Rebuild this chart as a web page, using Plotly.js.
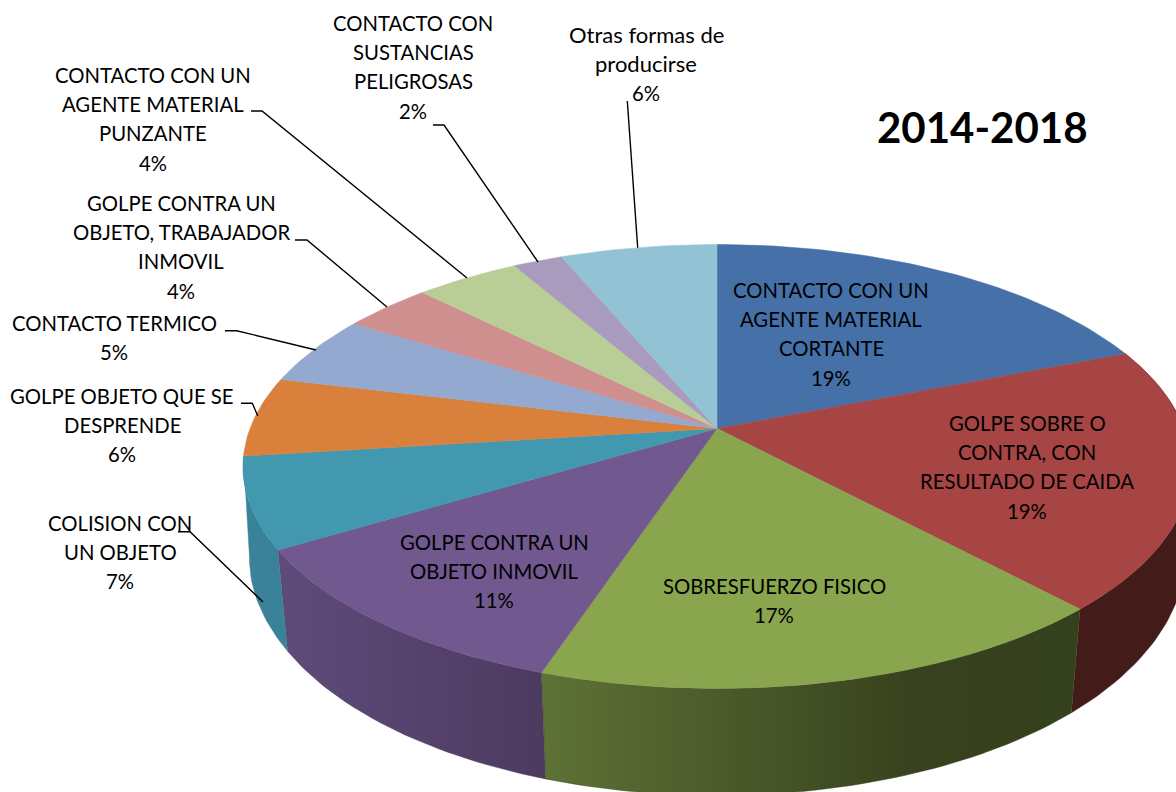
<!DOCTYPE html>
<html><head><meta charset="utf-8">
<script src="https://cdn.plot.ly/plotly-3.0.1.min.js"></script>
<style>html,body{margin:0;padding:0;background:#fff}#c{width:1176px;height:792px}</style>
</head><body><div id="c"></div>
<script>
const categories = ["CONTACTO CON UN AGENTE MATERIAL CORTANTE","GOLPE SOBRE O CONTRA, CON RESULTADO DE CAIDA","SOBRESFUERZO FISICO","GOLPE CONTRA UN OBJETO INMOVIL","COLISION CON UN OBJETO","GOLPE OBJETO QUE SE DESPRENDE","CONTACTO TERMICO","GOLPE CONTRA UN OBJETO, TRABAJADOR INMOVIL","CONTACTO CON UN AGENTE MATERIAL PUNZANTE","CONTACTO CON SUSTANCIAS PELIGROSAS","Otras formas de producirse"];
const values = [19.0,19.1,17.0,11.3,6.6,5.8,5.1,3.6,4.2,2.0,6.3];
const labelLines = [["CONTACTO CON UN","AGENTE MATERIAL","CORTANTE"],["GOLPE SOBRE O","CONTRA, CON","RESULTADO DE CAIDA"],["SOBRESFUERZO FISICO"],["GOLPE CONTRA UN","OBJETO INMOVIL"],["COLISION CON","UN OBJETO"],["GOLPE OBJETO QUE SE","DESPRENDE"],["CONTACTO TERMICO"],["GOLPE CONTRA UN","OBJETO, TRABAJADOR","INMOVIL"],["CONTACTO CON UN","AGENTE MATERIAL","PUNZANTE"],["CONTACTO CON","SUSTANCIAS","PELIGROSAS"],["Otras formas de","producirse"]];
const titleText = "2014-2018";
const colors = ["#4570A8","#A64543","#89A54E","#71588F","#4198AF","#D8803C","#93A9CF","#CF8F8E","#B9CD96","#A99BBD","#92C3D5"];
const wallColors = {1:[[0,"#431B19"],[1,"#431B19"]],2:[[0,"#5E7236"],[0.7,"#37411D"],[1,"#35401C"]],3:[[0,"#5F4B7A"],[1,"#4D3A5F"]],4:[[0,"#3A8298"],[1,"#3A8298"]]};
const labelX = [831,1027,774,494,120,122,114,181,153,413,646];
const labelY = [289.5,422.5,585.5,541.5,522.5,395.5,322.5,202.5,74.5,22.5,34.5];
const lineGap = 29.4;
const leaders = [null,null,null,null,
 [[178,531.7],[190,531.7],[263,602]],
 [[241,403.3],[252.3,403.3],[257.7,415.7]],
 [[225,330.7],[236.7,330.7],[316,350]],
 [[295,240],[307,240],[387,307]],
 [[251,111],[262,111],[467,278]],
 [[433,125],[444,125],[538,262]],
 [[627.3,101],[637.7,247.7]]];

// perspective projection of the pie disc
const CX=717,CY=428.5,A=467,B=215.5,K=0.171;
function rim(f){const t=2*Math.PI*f,x=Math.sin(t),y=-Math.cos(t),d=1-K*y;return [A*x/d,B*y/d];}
function px(p){return [CX+p[0],CY+p[1]];}
function low(p){const s=0.976+0.012*Math.exp(-Math.pow(p[1]/90,2));return [CX+s*p[0],CY+96+1.042*p[1]];}
function arc(a,b){const n=Math.max(6,Math.ceil((b-a)*300)),r=[];for(let i=0;i<=n;i++)r.push(rim(a+(b-a)*i/n));return r;}

const total=values.reduce((s,v)=>s+v,0);
const traces=[];
let c=0;const spans=values.map(v=>{const s=[c/total,(c+v)/total];c+=v;return s;});
spans.forEach((s,i)=>{
  if(!wallColors[i])return;
  const a=arc(s[0],s[1]);
  const pts=a.map(px).concat(a.slice().reverse().map(low));
  const scale=wallColors[i];
  traces.push({type:"scatter",mode:"lines",x:pts.map(p=>p[0]),y:pts.map(p=>p[1]),fill:"toself",
    line:{width:0.5,color:scale[scale.length-1][1]},
    fillgradient:{type:"horizontal",colorscale:scale},
    hoverinfo:"skip",showlegend:false});
});
spans.forEach((s,i)=>{
  const pts=[[CX,CY]].concat(arc(s[0],s[1]).map(px));pts.push([CX,CY]);
  traces.push({type:"scatter",mode:"lines",x:pts.map(p=>p[0]),y:pts.map(p=>p[1]),fill:"toself",
    fillcolor:colors[i],line:{width:0.5,color:colors[i]},name:categories[i],
    text:categories[i]+": "+Math.round(values[i])+"%",hoverinfo:"text",showlegend:false});
});
leaders.forEach(l=>{ if(!l)return;
  traces.push({type:"scatter",mode:"lines",x:l.map(p=>p[0]),y:l.map(p=>p[1]),
    line:{width:1.4,color:"#000"},hoverinfo:"skip",showlegend:false});
});
const fam="Lato, 'Open Sans', sans-serif";
const ann=[];
labelLines.forEach((ls,i)=>{
  ls.concat([Math.round(values[i])+"%"]).forEach((t,j)=>{
    ann.push({x:labelX[i],y:labelY[i]+j*lineGap,xref:"x",yref:"y",text:t,showarrow:false,xanchor:"center",yanchor:"middle",
      font:{family:fam,size:/[a-z]/.test(t)?22:20.3,color:"#000"}});
  });
});
ann.push({x:982,y:127,xref:"x",yref:"y",text:"<b>"+titleText+"</b>",showarrow:false,xanchor:"center",yanchor:"middle",
  font:{family:fam,size:42,color:"#000"}});
const axis={visible:false,fixedrange:true};
Plotly.newPlot("c",traces,{width:1176,height:792,margin:{l:0,r:0,t:0,b:0},paper_bgcolor:"#fff",plot_bgcolor:"#fff",
  xaxis:Object.assign({range:[0,1176]},axis),yaxis:Object.assign({range:[792,0]},axis),annotations:ann,showlegend:false},
  {displayModeBar:false});
</script></body></html>
